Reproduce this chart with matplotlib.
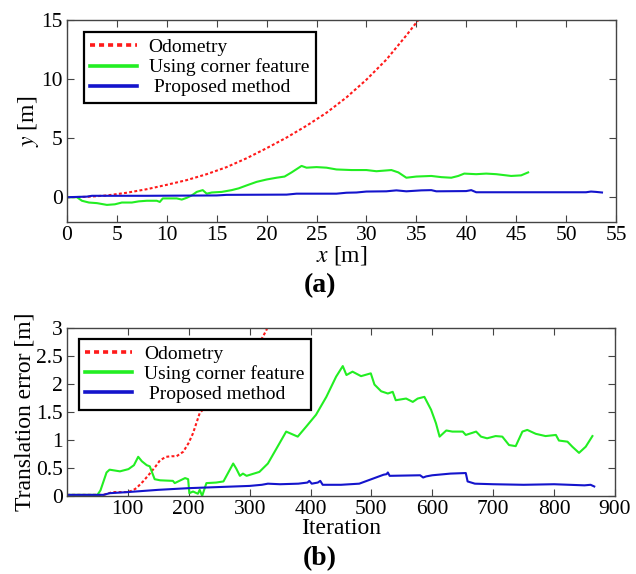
import matplotlib
matplotlib.use('Agg')
import matplotlib.pyplot as plt

# (a) trajectories
odo_x = [0, 2, 4, 6, 8, 10, 12, 14, 16, 18, 20, 22, 24, 26, 28, 30, 32, 34, 35.2]
odo_y = [0, 0.03, 0.15, 0.38, 0.68, 1.05, 1.45, 1.95, 2.55, 3.3, 4.15, 5.05, 6.05, 7.15, 8.45, 9.95, 11.65, 13.7, 15.0]

corner_x = [0, 1.0, 1.5, 2.2, 3.0, 4.0, 4.8, 5.5, 6.5, 7.2, 8.0, 9.0, 9.3, 9.6, 10.5, 11.0, 11.5, 12.0, 12.5, 13.0,
            13.6, 14.0, 14.5, 15.5, 16.5, 17.2, 18.0, 19.0, 20.0, 21.0, 21.8, 22.5, 23.5, 24.0, 25.0, 26.0, 27.0,
            28.5, 30.0, 31.0, 32.5, 33.2, 34.0, 35.0, 36.5, 37.5, 38.5, 39.2, 39.8, 41.0, 42.0, 43.0, 44.5, 45.5, 46.2]
corner_y = [0, 0, -0.3, -0.45, -0.5, -0.65, -0.6, -0.45, -0.45, -0.35, -0.3, -0.3, -0.4, -0.1, -0.1, -0.1, -0.2,
            -0.05, 0.15, 0.45, 0.6, 0.3, 0.4, 0.45, 0.6, 0.75, 1.0, 1.3, 1.5, 1.65, 1.75, 2.1, 2.65, 2.5, 2.55, 2.5,
            2.35, 2.3, 2.3, 2.2, 2.3, 2.1, 1.65, 1.75, 1.8, 1.7, 1.65, 1.8, 2.0, 1.95, 2.0, 1.95, 1.8, 1.85, 2.1]

prop_x = [0, 2.0, 2.5, 8, 15, 16, 22, 23, 27, 28, 29, 30, 32, 33, 34, 35.5, 36.5, 37, 40, 40.5, 41, 52, 52.5, 53, 53.6]
prop_y = [0, 0.05, 0.12, 0.12, 0.15, 0.2, 0.22, 0.3, 0.3, 0.38, 0.4, 0.48, 0.5, 0.58, 0.5, 0.58, 0.6, 0.5, 0.52,
          0.6, 0.42, 0.42, 0.48, 0.45, 0.4]

# (b) translation error per iteration
odo_iter = [0, 60, 75, 100, 108, 114, 125, 136, 145, 153, 163, 172, 180, 191, 200, 207, 218, 235, 260, 290, 319, 327, 335]
odo_err = [0.02, 0.02, 0.07, 0.07, 0.1, 0.14, 0.26, 0.40, 0.52, 0.64, 0.70, 0.71, 0.71, 0.79, 0.95, 1.12, 1.48,
           1.68, 2.02, 2.4, 2.79, 2.95, 3.15]

corner_iter = [0, 50, 55, 65, 70, 87, 101, 110, 117, 123, 131, 136, 144, 153, 174, 177, 194, 199, 201, 207, 215,
               218, 222, 229, 245, 257, 267, 273, 278, 284, 289, 295, 316, 330, 349, 360, 379, 393, 409, 426, 442,
               453, 459, 469, 483, 499, 505, 516, 527, 535, 540, 557, 568, 576, 587, 598, 606, 612, 623, 633, 650,
               655, 672, 680, 690, 704, 715, 726, 737, 748, 756, 770, 786, 803, 808, 822, 830, 841, 852, 863]
corner_err = [0.02, 0.02, 0.1, 0.42, 0.47, 0.44, 0.48, 0.55, 0.70, 0.62, 0.55, 0.53, 0.30, 0.28, 0.27, 0.23, 0.32,
              0.30, 0.05, 0.08, 0.04, 0.11, 0.0, 0.23, 0.24, 0.26, 0.46, 0.58, 0.49, 0.36, 0.40, 0.36, 0.43, 0.58,
              0.94, 1.15, 1.06, 1.24, 1.45, 1.77, 2.13, 2.32, 2.16, 2.22, 2.14, 2.19, 1.99, 1.87, 1.83, 1.86, 1.71,
              1.74, 1.68, 1.74, 1.77, 1.54, 1.30, 1.06, 1.17, 1.15, 1.15, 1.09, 1.15, 1.06, 1.03, 1.07, 1.06, 0.91,
              0.89, 1.15, 1.18, 1.11, 1.07, 1.09, 0.99, 0.97, 0.88, 0.77, 0.88, 1.07]

prop_iter = [0, 60, 70, 100, 150, 200, 250, 300, 320, 330, 350, 380, 395, 398, 402, 412, 416, 420, 450, 480, 500,
             520, 525, 527, 530, 580, 585, 590, 600, 630, 655, 658, 670, 700, 750, 800, 850, 860, 866]
prop_err = [0.02, 0.02, 0.05, 0.07, 0.11, 0.14, 0.16, 0.18, 0.20, 0.22, 0.21, 0.22, 0.24, 0.27, 0.22, 0.24, 0.27,
            0.20, 0.20, 0.22, 0.30, 0.38, 0.39, 0.42, 0.36, 0.37, 0.33, 0.35, 0.37, 0.40, 0.41, 0.26, 0.22, 0.21,
            0.20, 0.21, 0.19, 0.20, 0.17]

labels = ['Odometry', 'Using corner feature', ' Proposed method']

RED = '#ff1a1a'
GREEN = '#22ee22'
BLUE = '#1414cc'


def style_axes(ax):
  for s in ax.spines.values():
    s.set_color('#444444')
    s.set_linewidth(1.0)
  ax.tick_params(direction='in', top=True, right=True, length=5, width=0.8,
                 color='#444444', labelsize=15.5, pad=3)


def add_legend(ax, anchor):
  leg = ax.legend(loc='upper left', bbox_to_anchor=anchor, borderaxespad=0,
                  fontsize=14, handlelength=2.4, handletextpad=0.6,
                  labelspacing=0.12, borderpad=0.33, fancybox=False,
                  framealpha=1, edgecolor='black')
  leg.get_frame().set_linewidth(1.6)
  for line in leg.get_lines():
    line.set_linewidth(2.6)
  return leg


plt.rcParams['font.family'] = ['Liberation Serif', 'DejaVu Serif']
plt.rcParams['mathtext.fontset'] = 'stix'

fig = plt.figure(figsize=(6.36, 5.74), dpi=100)

# --- (a)
ax1 = fig.add_axes([0.1053, 0.6132, 0.8632, 0.3519])
ax1.plot(odo_x, odo_y, color=RED, linestyle=(0, (1.4, 1.1)), lw=1.5, label=labels[0])
ax1.plot(corner_x, corner_y, color=GREEN, lw=1.5, label=labels[1])
ax1.plot(prop_x, prop_y, color=BLUE, lw=1.5, label=labels[2])
ax1.set_xlim(0, 55)
ax1.set_ylim(-2.1, 15)
ax1.set_xticks(range(0, 56, 5))
ax1.set_yticks([0, 5, 10, 15])
style_axes(ax1)
add_legend(ax1, (0.031, 0.94))
ax1.set_xlabel(r'$x$ [m]', fontsize=17, labelpad=-1)
ax1.set_ylabel(r'$y$ [m]', fontsize=17, labelpad=0)
fig.text(0.503, 0.503, '(a)', ha='center', va='center', fontsize=20, fontweight='bold')

# --- (b)
ax2 = fig.add_axes([0.1053, 0.1359, 0.8616, 0.2927])
ax2.plot(odo_iter, odo_err, color=RED, linestyle=(0, (1.4, 1.1)), lw=1.5, label=labels[0])
ax2.plot(corner_iter, corner_err, color=GREEN, lw=1.5, label=labels[1])
ax2.plot(prop_iter, prop_err, color=BLUE, lw=1.5, label=labels[2])
ax2.set_xlim(0, 900)
ax2.set_ylim(0, 3)
ax2.set_xticks(range(100, 901, 100))
ax2.set_yticks([0, 0.5, 1, 1.5, 2, 2.5, 3])
ax2.set_yticklabels(['0', '0.5', '1', '1.5', '2', '2.5', '3'])
style_axes(ax2)
add_legend(ax2, (0.022, 0.9345))
ax2.set_xlabel('Iteration', fontsize=17, labelpad=-1)
ax2.set_ylabel('Translation error [m]', fontsize=17, labelpad=0)
fig.text(0.503, 0.027, '(b)', ha='center', va='center', fontsize=20, fontweight='bold')

fig.savefig('out.png', dpi=100)
